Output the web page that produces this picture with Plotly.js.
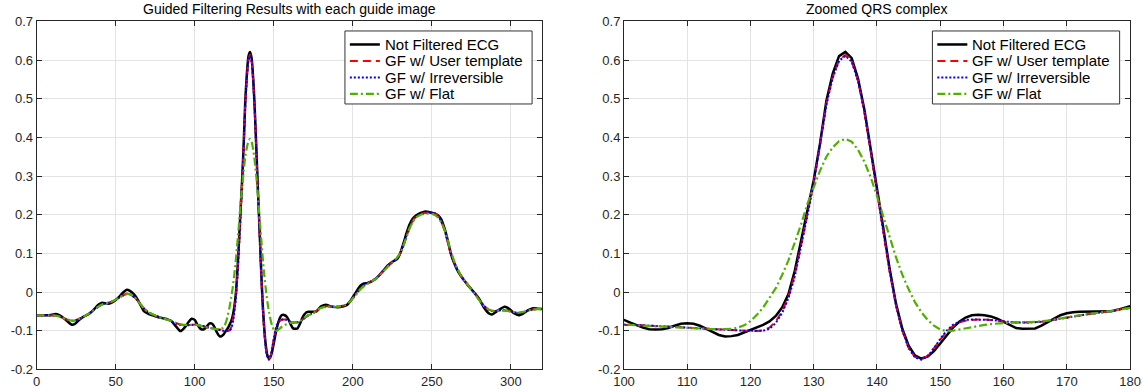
<!DOCTYPE html>
<html>
<head>
<meta charset="utf-8">
<script src="https://cdn.plot.ly/plotly-3.0.1.min.js"></script>
<style>html,body{margin:0;padding:0;background:#fff;}#chart{width:1142px;height:392px;}</style>
</head>
<body>
<div id="chart"></div>
<script>
// Sample index (x axis)
const sampleX = [0,4,8,12,14,16,19,22,24,27,30,33,36,39,41,43,46,49,52,55,57,59,62,64,66,68,71,74,77,80,83,85,88,91,94,96,98,
100,101,102,103,104,105,106,107,108,109,110,111,112,113,114,115,116,117,118,119,120,121,122,123,124,125,126,127,128,129,
130,131,132,133,134,135,136,137,138,139,140,141,142,143,144,145,146,147,148,149,150,151,152,153,154,155,156,157,158,159,
160,161,162,163,164,165,166,167,168,169,170,171,172,173,174,175,176,177,178,179,180,
183,186,189,192,195,197,199,201,203,205,207,209,211,213,216,219,222,225,228,230,232,234,236,238,240,242,244,246,248,250,
252,254,256,258,260,262,264,266,268,271,274,277,280,283,286,288,290,292,294,296,298,300,302,305,308,311,314,317,320];

const notFiltered = [-0.060,-0.060,-0.060,-0.057,-0.059,-0.064,-0.074,-0.084,-0.083,-0.072,
-0.063,-0.057,-0.046,-0.033,-0.028,-0.029,-0.030,-0.024,-0.013,0.000,
0.006,0.003,-0.008,-0.020,-0.036,-0.050,-0.057,-0.061,-0.065,-0.068,
-0.071,-0.074,-0.088,-0.101,-0.090,-0.078,-0.069,
-0.072,-0.079,-0.086,-0.092,-0.096,-0.097,-0.096,-0.093,-0.087,-0.082,
-0.081,-0.082,-0.087,-0.095,-0.104,-0.111,-0.115,-0.114,-0.111,-0.105,
-0.099,-0.093,-0.085,-0.076,-0.062,-0.040,-0.005,0.055,0.132,0.213,
0.290,0.385,0.495,0.565,0.610,0.621,0.605,0.552,0.472,0.370,
0.262,0.165,0.060,-0.030,-0.095,-0.139,-0.164,-0.172,-0.167,-0.153,
-0.133,-0.111,-0.092,-0.077,-0.066,-0.060,-0.059,-0.060,-0.063,-0.069,
-0.077,-0.086,-0.093,-0.095,-0.095,-0.094,-0.087,-0.078,-0.068,-0.060,
-0.055,-0.052,-0.051,-0.051,-0.051,-0.051,-0.051,-0.050,-0.046,-0.041,
-0.037,
-0.033,-0.037,-0.039,-0.039,-0.036,-0.031,-0.020,-0.007,0.006,0.017,
0.022,0.023,0.026,0.030,0.040,0.054,0.068,0.078,0.085,0.100,
0.125,0.152,0.175,0.190,0.198,0.203,0.206,0.208,0.207,0.205,
0.203,0.198,0.188,0.165,0.135,0.100,0.076,0.058,0.044,0.027,
0.012,-0.002,-0.018,-0.040,-0.055,-0.058,-0.053,-0.047,-0.042,-0.038,
-0.041,-0.047,-0.055,-0.060,-0.055,-0.047,-0.042,-0.043,-0.044];

const gfUserTemplate = [-0.060,-0.060,-0.060,-0.061,-0.063,-0.066,-0.071,-0.074,-0.074,-0.069,
-0.063,-0.056,-0.047,-0.038,-0.033,-0.030,-0.027,-0.022,-0.015,-0.008,
-0.004,-0.006,-0.014,-0.023,-0.033,-0.043,-0.053,-0.059,-0.064,-0.068,
-0.072,-0.075,-0.080,-0.084,-0.085,-0.085,-0.085,
-0.084,-0.084,-0.085,-0.086,-0.087,-0.088,-0.089,-0.090,-0.091,-0.092,
-0.092,-0.093,-0.094,-0.095,-0.096,-0.097,-0.097,-0.098,-0.099,-0.100,
-0.100,-0.101,-0.099,-0.092,-0.076,-0.050,-0.012,0.045,0.120,0.203,
0.285,0.380,0.487,0.556,0.600,0.613,0.597,0.546,0.466,0.364,
0.256,0.158,0.052,-0.035,-0.100,-0.145,-0.168,-0.174,-0.165,-0.145,
-0.122,-0.102,-0.088,-0.079,-0.074,-0.072,-0.071,-0.071,-0.072,-0.074,
-0.076,-0.078,-0.079,-0.079,-0.079,-0.078,-0.077,-0.075,-0.072,-0.069,
-0.066,-0.063,-0.060,-0.058,-0.056,-0.054,-0.052,-0.049,-0.046,-0.043,
-0.041,
-0.037,-0.037,-0.038,-0.037,-0.034,-0.029,-0.021,-0.011,0.000,0.010,
0.017,0.022,0.026,0.031,0.040,0.053,0.066,0.077,0.088,0.100,
0.120,0.145,0.168,0.185,0.195,0.200,0.203,0.205,0.206,0.206,
0.204,0.197,0.182,0.160,0.130,0.100,0.078,0.060,0.045,0.027,
0.012,-0.003,-0.020,-0.036,-0.046,-0.049,-0.049,-0.048,-0.047,-0.047,
-0.048,-0.050,-0.052,-0.054,-0.052,-0.048,-0.045,-0.044,-0.044];

const gfIrreversible = [-0.060,-0.060,-0.060,-0.061,-0.063,-0.066,-0.071,-0.074,-0.074,-0.069,
-0.063,-0.056,-0.047,-0.038,-0.033,-0.030,-0.027,-0.022,-0.015,-0.008,
-0.005,-0.006,-0.014,-0.023,-0.033,-0.043,-0.053,-0.059,-0.064,-0.068,
-0.072,-0.075,-0.081,-0.085,-0.086,-0.086,-0.085,
-0.084,-0.084,-0.085,-0.086,-0.087,-0.088,-0.089,-0.090,-0.091,-0.092,
-0.093,-0.094,-0.095,-0.096,-0.097,-0.098,-0.098,-0.099,-0.100,-0.100,
-0.100,-0.100,-0.100,-0.095,-0.080,-0.054,-0.016,0.040,0.115,0.198,
0.282,0.378,0.485,0.554,0.598,0.611,0.596,0.546,0.468,0.366,
0.258,0.160,0.054,-0.033,-0.099,-0.145,-0.169,-0.175,-0.166,-0.146,
-0.121,-0.100,-0.085,-0.077,-0.072,-0.071,-0.071,-0.071,-0.072,-0.074,
-0.076,-0.078,-0.079,-0.079,-0.079,-0.078,-0.077,-0.075,-0.072,-0.069,
-0.066,-0.063,-0.060,-0.058,-0.056,-0.054,-0.052,-0.049,-0.046,-0.043,
-0.041,
-0.037,-0.037,-0.038,-0.037,-0.034,-0.029,-0.021,-0.011,0.000,0.010,
0.017,0.022,0.026,0.031,0.040,0.053,0.066,0.077,0.088,0.100,
0.120,0.144,0.167,0.184,0.194,0.199,0.202,0.204,0.205,0.205,
0.203,0.196,0.182,0.161,0.132,0.102,0.079,0.060,0.045,0.027,
0.012,-0.003,-0.020,-0.036,-0.046,-0.049,-0.049,-0.048,-0.047,-0.047,
-0.048,-0.050,-0.052,-0.054,-0.052,-0.048,-0.045,-0.044,-0.044];

const gfFlat = [-0.060,-0.060,-0.060,-0.061,-0.063,-0.066,-0.071,-0.074,-0.074,-0.069,
-0.063,-0.056,-0.047,-0.038,-0.033,-0.030,-0.027,-0.022,-0.015,-0.008,
-0.005,-0.006,-0.014,-0.023,-0.033,-0.043,-0.053,-0.059,-0.064,-0.068,
-0.072,-0.075,-0.080,-0.084,-0.085,-0.085,-0.085,
-0.084,-0.085,-0.086,-0.087,-0.088,-0.089,-0.090,-0.091,-0.092,-0.093,
-0.093,-0.094,-0.095,-0.096,-0.096,-0.096,-0.096,-0.095,-0.092,-0.086,
-0.075,-0.059,-0.040,-0.016,0.010,0.044,0.082,0.128,0.175,0.228,
0.272,0.314,0.350,0.374,0.390,0.396,0.389,0.368,0.337,0.297,
0.248,0.195,0.141,0.090,0.045,0.007,-0.026,-0.052,-0.072,-0.087,
-0.097,-0.101,-0.100,-0.097,-0.094,-0.090,-0.087,-0.085,-0.083,-0.081,
-0.080,-0.079,-0.079,-0.078,-0.078,-0.077,-0.076,-0.074,-0.071,-0.068,
-0.065,-0.062,-0.060,-0.058,-0.056,-0.054,-0.052,-0.049,-0.046,-0.043,
-0.041,
-0.038,-0.038,-0.038,-0.037,-0.034,-0.029,-0.021,-0.012,-0.002,0.008,
0.015,0.020,0.025,0.030,0.039,0.052,0.065,0.077,0.089,0.101,
0.119,0.142,0.165,0.182,0.193,0.198,0.201,0.203,0.203,0.202,
0.199,0.192,0.180,0.162,0.135,0.106,0.082,0.062,0.046,0.028,
0.012,-0.004,-0.021,-0.036,-0.045,-0.048,-0.049,-0.048,-0.048,-0.048,
-0.049,-0.051,-0.052,-0.053,-0.051,-0.048,-0.045,-0.044,-0.044];

const seriesNames = ['Not Filtered ECG', 'GF w/ User template', 'GF w/ Irreversible', 'GF w/ Flat'];
const seriesValues = [notFiltered, gfUserTemplate, gfIrreversible, gfFlat];
const seriesColors = ['#000000', '#ff0000', '#0000ff', '#4fb000'];
const seriesDash = ['solid', '8px,5px', '2px,2px', '8px,3px,2px,3px'];
const seriesWidth = [2.5, 2, 2, 2.2];

const leftTicksX = [0, 50, 100, 150, 200, 250, 300];
const rightTicksX = [100, 110, 120, 130, 140, 150, 160, 170, 180];
const ticksY = [-0.2, -0.1, 0, 0.1, 0.2, 0.3, 0.4, 0.5, 0.6, 0.7];
const ticksYText = ['-0.2', '-0.1', '0', '0.1', '0.2', '0.3', '0.4', '0.5', '0.6', '0.7'];

const titles = ['Guided Filtering Results with each guide image', 'Zoomed QRS complex'];

const FONT = 'Liberation Sans, Arial, Helvetica, sans-serif';
const panels = [
  { xa: 'x', ya: 'y', shape: 'spline' },
  { xa: 'x2', ya: 'y2', shape: 'linear' }
];

const traces = [];
panels.forEach(function (p) {
  for (let i = 0; i < seriesNames.length; i++) {
    traces.push({
      type: 'scatter', mode: 'lines',
      x: sampleX, y: seriesValues[i], name: seriesNames[i],
      xaxis: p.xa, yaxis: p.ya, showlegend: false,
      line: { color: seriesColors[i], width: seriesWidth[i], dash: seriesDash[i], shape: p.shape, smoothing: 0.6 },
      hoverinfo: 'skip'
    });
  }
});

// Legend box (MATLAB-style, drawn inside each axes, relative to the axes domain)
const shapes = [];
const annotations = [];
const LEG = { x0: 0.6095, x1: 0.9795, y0: 0.7626, y1: 0.9724, lx0: 0.6192, lx1: 0.6785, tx: 0.6845 };
const legRowY = [0.9336, 0.8862, 0.8388, 0.7914];
panels.forEach(function (p) {
  const xr = p.xa + ' domain', yr = p.ya + ' domain';
  shapes.push({ type: 'rect', xref: xr, yref: yr, x0: LEG.x0, x1: LEG.x1, y0: LEG.y0, y1: LEG.y1,
    fillcolor: '#ffffff', line: { color: '#333333', width: 1 }, layer: 'above' });
  for (let i = 0; i < seriesNames.length; i++) {
    shapes.push({ type: 'line', xref: xr, yref: yr, x0: LEG.lx0, x1: LEG.lx1, y0: legRowY[i], y1: legRowY[i],
      line: { color: seriesColors[i], width: seriesWidth[i], dash: seriesDash[i] }, layer: 'above' });
    annotations.push({ text: seriesNames[i], xref: xr, yref: yr, x: LEG.tx, y: legRowY[i],
      xanchor: 'left', yanchor: 'middle', showarrow: false,
      font: { family: FONT, size: 15, color: '#000000' } });
  }
});

function xAxis(domain, range, ticks, anchor) {
  return {
    domain: domain, range: range, anchor: anchor, tickmode: 'array', tickvals: ticks,
    ticks: 'inside', ticklen: 5, tickwidth: 1, tickcolor: '#262626',
    showline: true, linecolor: '#262626', linewidth: 1, mirror: 'ticks',
    showgrid: true, gridcolor: '#e3e3e3', gridwidth: 1, zeroline: false,
    tickfont: { family: FONT, size: 13, color: '#262626' }, fixedrange: true
  };
}
function yAxis(anchor) {
  return {
    domain: [0.0577, 0.9455], range: [-0.2, 0.7], anchor: anchor,
    tickmode: 'array', tickvals: ticksY, ticktext: ticksYText,
    ticks: 'inside', ticklen: 5, tickwidth: 1, tickcolor: '#262626',
    showline: true, linecolor: '#262626', linewidth: 1, mirror: 'ticks',
    showgrid: true, gridcolor: '#e3e3e3', gridwidth: 1, zeroline: false,
    tickfont: { family: FONT, size: 13, color: '#262626' }, fixedrange: true
  };
}

const domL = [0.0321, 0.4750], domR = [0.5464, 0.9895];
annotations.push(
  { text: titles[0], xref: 'paper', yref: 'paper', x: (domL[0] + domL[1]) / 2, y: 1 - 9 / 392,
    xanchor: 'center', yanchor: 'middle', showarrow: false, font: { family: FONT, size: 14, color: '#000000' } },
  { text: titles[1], xref: 'paper', yref: 'paper', x: (domR[0] + domR[1]) / 2, y: 1 - 9 / 392,
    xanchor: 'center', yanchor: 'middle', showarrow: false, font: { family: FONT, size: 14, color: '#000000' } }
);

const layout = {
  width: 1142, height: 392,
  margin: { l: 0, r: 0, t: 0, b: 0 },
  paper_bgcolor: '#ffffff', plot_bgcolor: '#ffffff',
  showlegend: false,
  xaxis: xAxis(domL, [0, 320], leftTicksX, 'y'), yaxis: yAxis('x'),
  xaxis2: xAxis(domR, [100, 180], rightTicksX, 'y2'), yaxis2: yAxis('x2'),
  shapes: shapes,
  annotations: annotations
};

Plotly.newPlot('chart', traces, layout, { displayModeBar: false, staticPlot: true });
</script>
</body>
</html>
